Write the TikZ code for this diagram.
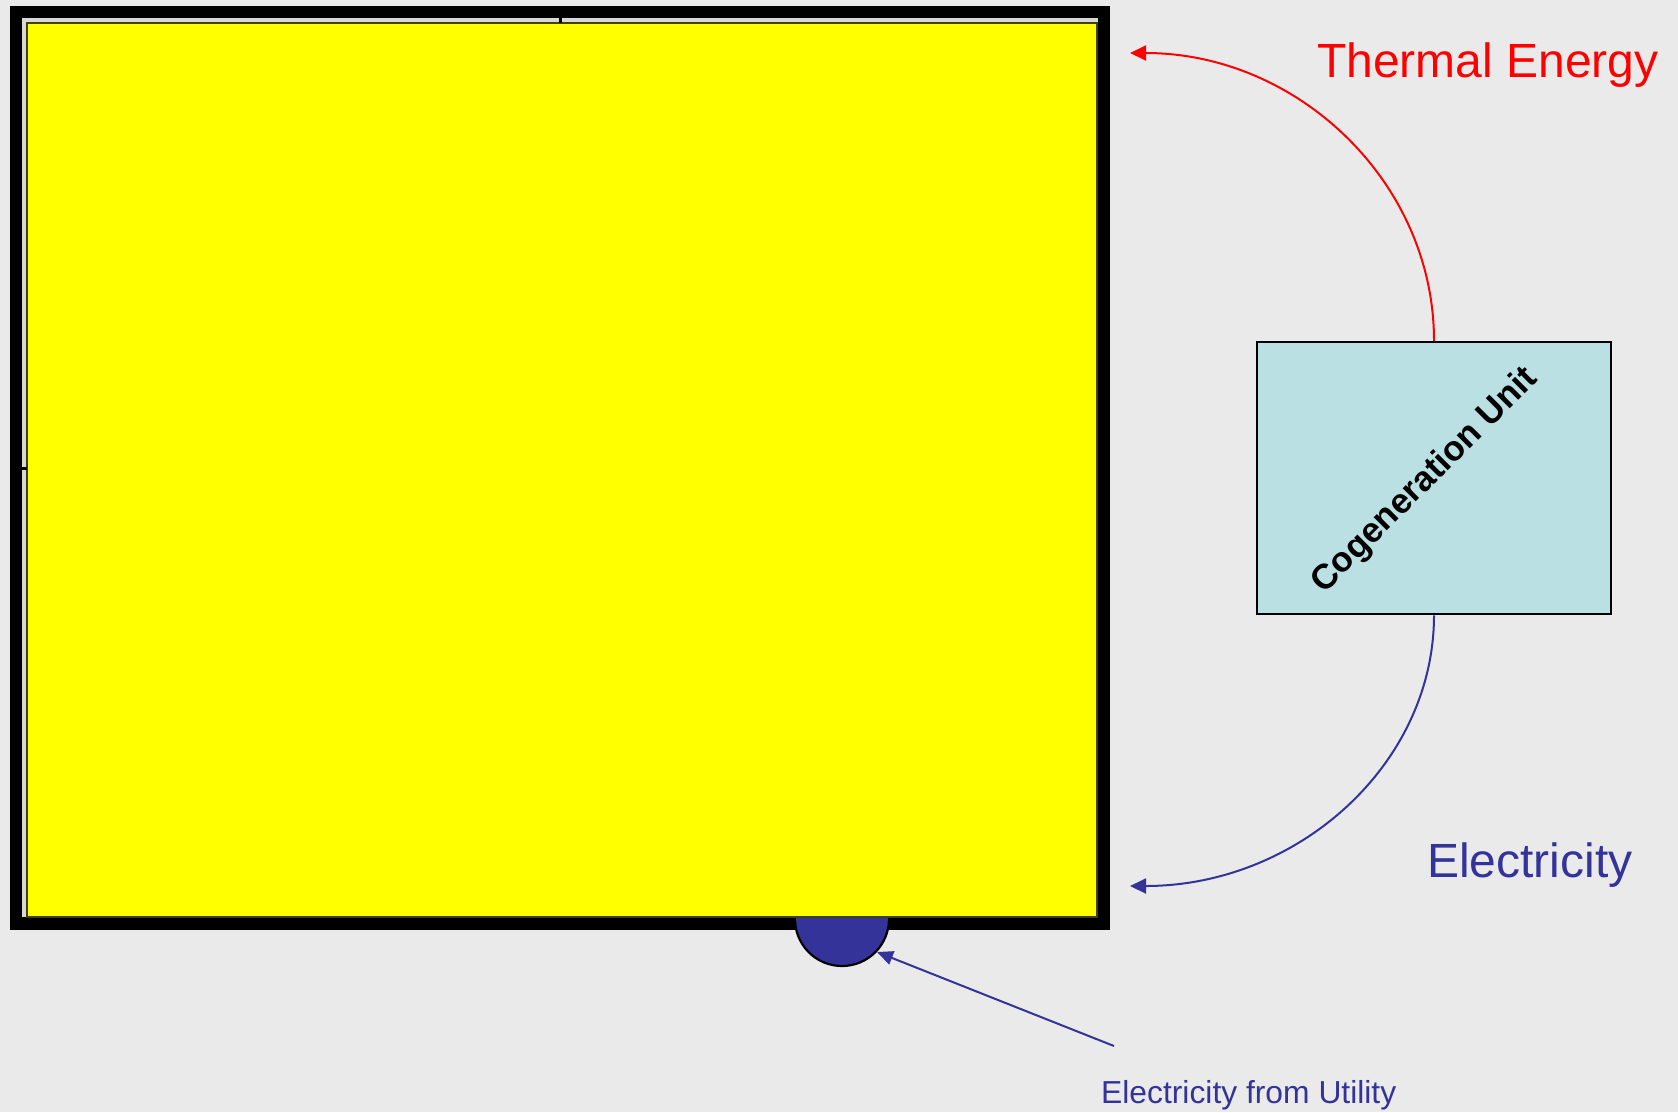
\documentclass[tikz,border=0pt]{standalone}
\usepackage{fontspec}
\setmainfont{Liberation Sans}
\usetikzlibrary{arrows.meta}
\definecolor{bg}{HTML}{EAEAEA}
\definecolor{elblue}{HTML}{333399}
\definecolor{therm}{HTML}{FF0000}
\definecolor{house}{HTML}{FFFF00}
\definecolor{unit}{HTML}{BBE0E3}
\definecolor{wall}{HTML}{D8D8D8}
\tikzset{
  flowarrow/.style={line width=2pt,-{Triangle[length=16pt,width=15pt]}},
  unitbox/.style={draw=black,fill=unit,line width=2.5pt,minimum width=354pt,minimum height=272pt,inner sep=0pt},
  bigtext/.style={inner sep=0pt,font=\fontsize{48}{56}\selectfont},
}
\begin{document}
\begin{tikzpicture}[x=1pt,y=-1pt]
\useasboundingbox[fill=bg] (0,0) rectangle (1678,1112);
% building
\fill[black] (10,6) rectangle (1110,930);
\fill[wall] (22,18) rectangle (1098,917);
\node[draw=black!75!house,fill=house,line width=1.5pt,minimum width=1070pt,minimum height=894pt,inner sep=0pt] (building) at (562,470) {};
\fill[black] (559,16) rectangle (562,23);
\fill[black] (20,467) rectangle (27,470);
% utility meter
\filldraw[fill=elblue,draw=black,line width=2.2pt] (795,919) arc[start angle=180,end angle=360,radius=47pt];
\fill[elblue] (796.2,917.5) rectangle (887.8,921);
\coordinate (meterpt) at (877,952);
% cogeneration unit
\node[unitbox] (cogen) at (1434,478) {};
\node[rotate=45,inner sep=0pt,font=\bfseries\fontsize{35}{40}\selectfont] (cogenlabel) at (1425,481) {Cogeneration Unit};
% arrows
\coordinate (thermtip) at (1130,53);
\coordinate (electip) at (1130,886);
\draw[flowarrow,draw=therm] (cogen.north) .. controls (1434,182.4) and (1297.9,53) .. (thermtip);
\draw[flowarrow,draw=elblue] (cogen.south) .. controls (1434,764.2) and (1297.9,886) .. (electip);
\coordinate (utilsrc) at (1114,1046);
\draw[elblue,line width=2pt,-{Triangle[length=16pt,width=14pt]}] (utilsrc) -- (meterpt);
% labels
\node[bigtext,text=therm,anchor=base west] (thermlabel) at (1317,77) {Thermal Energy};
\node[bigtext,text=elblue,anchor=base west] (eleclabel) at (1427,877) {Electricity};
\node[inner sep=0pt,text=elblue,anchor=base west,font=\fontsize{31.8}{38}\selectfont] (utillabel) at (1101,1103) {Electricity from Utility};
\end{tikzpicture}
\end{document}
